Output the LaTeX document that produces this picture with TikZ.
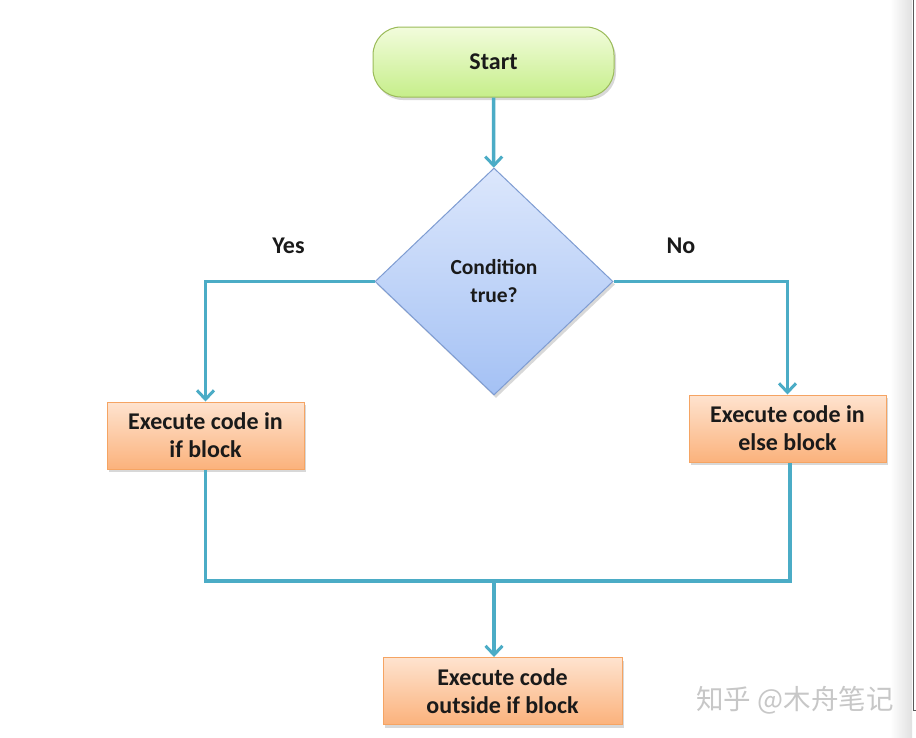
\documentclass[tikz,border=0pt]{standalone}
\usepackage{fontspec}
\setmainfont{Carlito}
\newfontfamily\cjk{Noto Sans CJK SC}
\usetikzlibrary{arrows.meta,shapes.geometric,shadows}
\definecolor{conncol}{HTML}{4BACC6}
\definecolor{greenA}{HTML}{F2FCDC}
\definecolor{greenB}{HTML}{C6EE8A}
\definecolor{greenD}{HTML}{9BBB59}
\definecolor{blueA}{HTML}{DCE7FC}
\definecolor{blueB}{HTML}{A4C1F4}
\definecolor{blueD}{HTML}{7E9CD2}
\definecolor{orA}{HTML}{FEE3CF}
\definecolor{orB}{HTML}{FBB27C}
\definecolor{orD}{HTML}{F5A463}
\definecolor{txt}{HTML}{1A1A1A}
\tikzset{
  base/.style={font=\bfseries\fontsize{24}{28}\selectfont, text=txt, align=center, inner sep=0pt,
    drop shadow={shadow xshift=2pt, shadow yshift=-3pt, opacity=0.25, fill=black!60}},
  startbox/.style={base, rectangle, rounded corners=28pt, minimum width=241pt, minimum height=70pt,
    draw=greenD, line width=1pt, top color=greenA, bottom color=greenB},
  decision/.style={base, font=\bfseries\fontsize{21.5}{28}\selectfont, diamond, minimum width=238pt, minimum height=227pt,
    draw=blueD, line width=1pt, top color=blueA, bottom color=blueB},
  procbox/.style={base, rectangle, minimum height=67pt,
    draw=orD, line width=1pt, top color=orA, bottom color=orB},
  conn/.style={draw=conncol, line width=3.5pt, -{Straight Barb[length=9pt,width=17pt,line width=3pt]}},
  plainconn/.style={draw=conncol, line width=3.5pt},
  lbl/.style={font=\bfseries\fontsize{24}{28}\selectfont, text=txt, inner sep=0pt}
}
\begin{document}
\begin{tikzpicture}[x=1pt,y=-1pt]
\useasboundingbox (0,0) rectangle (916,737);
\fill[white] (0,0) rectangle (916,737);
% right edge window frame
\shade[left color=white, right color=black!12] (890,0) rectangle (912,737);
\draw[black!65, line width=1pt] (913,0) -- (913,710) -- (916,710);

\node[startbox] (start) at (493.5,62) {Start};
\node[decision] (cond) at (494,281.5) {Condition\\true?};
\node[procbox, minimum width=197pt] (ifb) at (205.5,435.5) {Execute code in\\if block};
\node[procbox, minimum width=197pt] (elseb) at (787.5,428.5) {Execute code in\\else block};
\node[procbox, minimum width=239pt] (outb) at (502.5,691) {Execute code\\outside if block};

\node[lbl] (yes) at (288.5,246) {Yes};
\node[lbl] (no) at (681,246) {No};

\coordinate (m) at (494,581);
\coordinate (mr) at (790,581);

\draw[conn] (start) -- (cond);
\draw[conn] (cond.west) -| (ifb.north);
\draw[conn] (cond.east) -| (elseb.north);
\draw[plainconn] (ifb.south) |- (mr) -- (mr |- elseb.south);
\draw[conn] (m) -- (m |- outb.north);

\node[text=black!22, font=\cjk\fontsize{27.5}{30}\selectfont, inner sep=0pt] (wm) at (795,700) {知乎 @木舟笔记};
\end{tikzpicture}
\end{document}
